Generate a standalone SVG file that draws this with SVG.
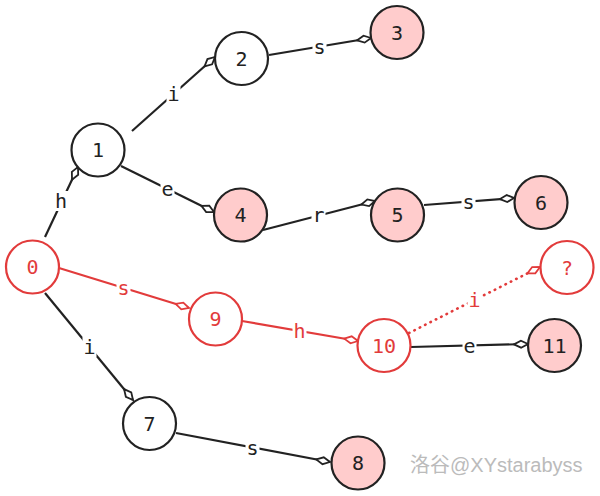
<svg xmlns="http://www.w3.org/2000/svg" width="600" height="496" viewBox="0 0 600 496">
<style>
.n circle{stroke:#222;stroke-width:2.2;fill:#fff}
.n.acc circle{fill:#ffcccc}
.n.red circle{stroke:#e23b3b}
.n text{font-family:"DejaVu Sans Mono",monospace;font-size:20px;fill:#222;text-anchor:middle}
.n.red text{fill:#e23b3b}
.e line{stroke:#222;stroke-width:2.2;fill:none}
.e.red line{stroke:#e23b3b}
.e.dot line{stroke-dasharray:0.5 5.5;stroke-linecap:round;stroke-width:2.6}
.e rect{fill:#fff}
.e text{font-family:"DejaVu Sans Mono",monospace;font-size:20px;fill:#222;text-anchor:middle}
.e.red text{fill:#e23b3b}
.wm{font-family:"Liberation Sans","Noto Sans CJK SC",sans-serif;font-size:20px;fill:#bbbbbb}
</style>
<defs>
<marker id="dk" viewBox="-1 -5 17 10" markerWidth="17" markerHeight="10" refX="14" refY="0" orient="auto" markerUnits="userSpaceOnUse">
<path d="M0,0 L7,-3.5 L14,0 L7,3.5 Z" fill="#fff" stroke="#222" stroke-width="1.8"/>
</marker>
<marker id="rd" viewBox="-1 -5 17 10" markerWidth="17" markerHeight="10" refX="14" refY="0" orient="auto" markerUnits="userSpaceOnUse">
<path d="M0,0 L7,-3.5 L14,0 L7,3.5 Z" fill="#fff" stroke="#e23b3b" stroke-width="1.8"/>
</marker>
</defs>
<g id="connectors">
<g class="e" id="e0-1"><line x1="45" y1="237" x2="78" y2="167" marker-end="url(#dk)"/><rect x="54" y="191" width="14" height="20"/><text x="61" y="208">h</text></g>
<g class="e" id="e1-2"><line x1="132" y1="131" x2="215" y2="57" marker-end="url(#dk)"/><rect x="166.5" y="84" width="14" height="20"/><text x="173.5" y="101">i</text></g>
<g class="e" id="e2-3"><line x1="269" y1="55" x2="371" y2="38" marker-end="url(#dk)"/><rect x="312.5" y="37" width="14" height="20"/><text x="319.5" y="54">s</text></g>
<g class="e" id="e1-4"><line x1="121" y1="166" x2="214" y2="212" marker-end="url(#dk)"/><rect x="160.5" y="179" width="14" height="20"/><text x="167.5" y="196">e</text></g>
<g class="e" id="e4-5"><line x1="263" y1="230" x2="375" y2="201" marker-end="url(#dk)"/><rect x="311.5" y="205" width="14" height="20"/><text x="318.5" y="222">r</text></g>
<g class="e" id="e5-6"><line x1="424" y1="205" x2="514" y2="198" marker-end="url(#dk)"/><rect x="461.5" y="192" width="14" height="20"/><text x="468.5" y="209">s</text></g>
<g class="e red" id="e0-9"><line x1="59" y1="268" x2="189" y2="308" marker-end="url(#rd)"/><rect x="116.5" y="278" width="14" height="20"/><text x="123.5" y="295">s</text></g>
<g class="e red" id="e9-10"><line x1="242" y1="321" x2="358" y2="341" marker-end="url(#rd)"/><rect x="292.5" y="321" width="14" height="20"/><text x="299.5" y="338">h</text></g>
<g class="e red dot" id="e10-q"><line x1="409" y1="333" x2="540" y2="267" marker-end="url(#rd)"/><rect x="467.5" y="290" width="14" height="20"/><text x="474.5" y="307">i</text></g>
<g class="e" id="e10-11"><line x1="411" y1="347" x2="528" y2="344" marker-end="url(#dk)"/><rect x="462.5" y="336" width="14" height="20"/><text x="469.5" y="353">e</text></g>
<g class="e" id="e0-7"><line x1="45" y1="293" x2="133" y2="400" marker-end="url(#dk)"/><rect x="82.5" y="337" width="14" height="20"/><text x="89.5" y="354">i</text></g>
<g class="e" id="e7-8"><line x1="176" y1="433" x2="330" y2="462" marker-end="url(#dk)"/><rect x="245.5" y="438" width="14" height="20"/><text x="252.5" y="455">s</text></g>
</g>
<g id="n0" class="n red"><circle cx="32.5" cy="267" r="26.5"/><text x="32.5" y="274">0</text></g>
<g id="n1" class="n"><circle cx="98" cy="150" r="26.5"/><text x="98" y="157">1</text></g>
<g id="n2" class="n"><circle cx="241.5" cy="58.5" r="26.5"/><text x="241.5" y="65.5">2</text></g>
<g id="n3" class="n acc"><circle cx="397" cy="32.5" r="26.5"/><text x="397" y="39.5">3</text></g>
<g id="n4" class="n acc"><circle cx="240.5" cy="215" r="26.5"/><text x="240.5" y="222">4</text></g>
<g id="n5" class="n acc"><circle cx="397.5" cy="215" r="26.5"/><text x="397.5" y="222">5</text></g>
<g id="n6" class="n acc"><circle cx="541" cy="202.5" r="26.5"/><text x="541" y="209.5">6</text></g>
<g id="n7" class="n"><circle cx="149.5" cy="423.5" r="26.5"/><text x="149.5" y="430.5">7</text></g>
<g id="n8" class="n acc"><circle cx="358" cy="463" r="26.5"/><text x="358" y="470">8</text></g>
<g id="n9" class="n red"><circle cx="215.5" cy="319" r="26.5"/><text x="215.5" y="326">9</text></g>
<g id="n10" class="n red"><circle cx="384" cy="345.5" r="26.5"/><text x="384" y="352.5">10</text></g>
<g id="n11" class="n acc"><circle cx="554.5" cy="345.5" r="26.5"/><text x="554.5" y="352.5">11</text></g>
<g id="nq" class="n red"><circle cx="567" cy="267.5" r="26.5"/><text x="567" y="274.5">?</text></g>
<text class="wm" x="410" y="472">洛谷@XYstarabyss</text>
</svg>
